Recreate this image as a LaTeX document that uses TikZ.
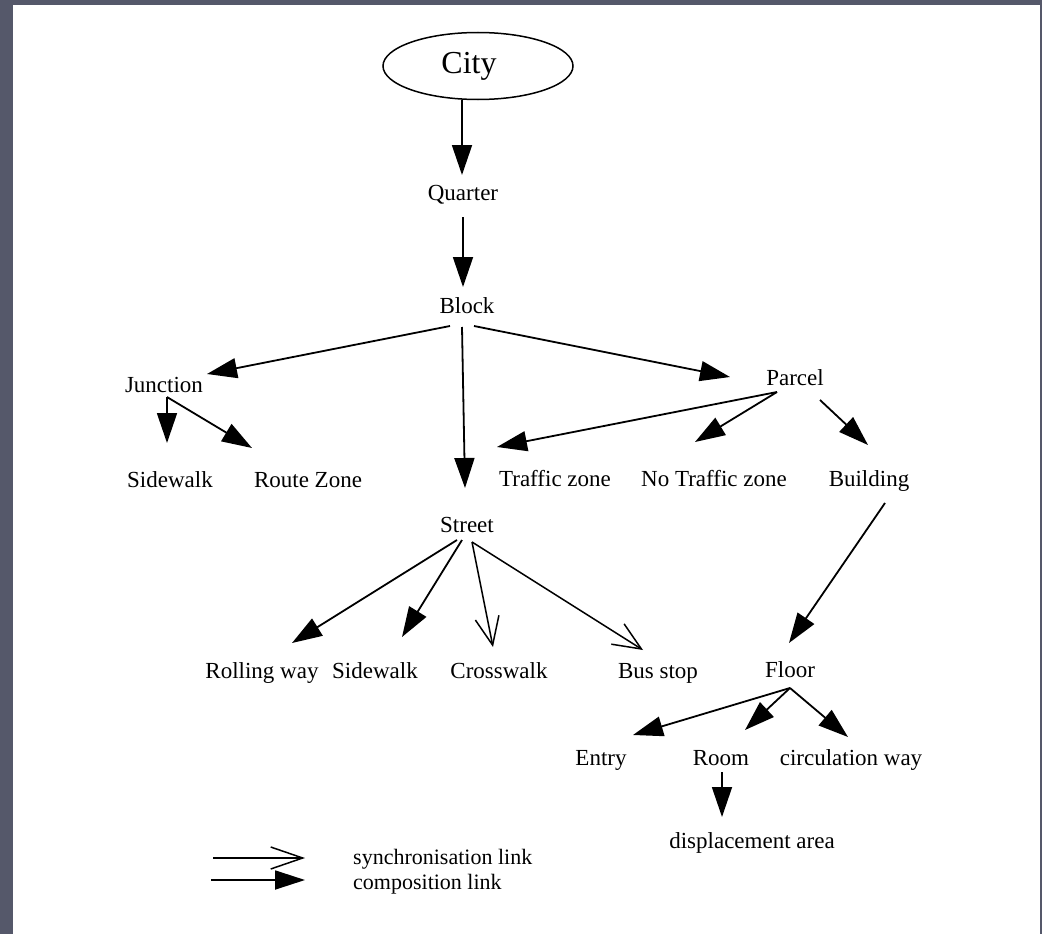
\documentclass[tikz,border=0pt]{standalone}
\usepackage{fontspec}
\setmainfont{Liberation Serif}
\usetikzlibrary{arrows.meta,calc,shapes.geometric}
\definecolor{slate}{RGB}{85,88,106}
\begin{document}
\begin{tikzpicture}[x=1pt,y=-1pt,
  lbl/.style={anchor=base,inner sep=0pt,font=\fontsize{23}{26}\selectfont},
  comp/.style={-{Triangle[length=30pt,width=20pt]},line width=1.8pt},
  sync/.style={-{Straight Barb[length=28pt,width=24pt]},line width=1.5pt}]
% frame
\fill[slate] (0,0) rectangle (1042,934);
\fill[white] (13,5) rectangle (1040,934);
\useasboundingbox (0,0) rectangle (1042,934);

% nodes
\node[draw,ellipse,line width=1.5pt,minimum width=190pt,minimum height=67pt,
      inner sep=0pt,font=\fontsize{32}{36}\selectfont] (city) at (478,66) {City\hspace*{18pt}};
\node[lbl] (quarter)   at (463,200) {Quarter};
\node[lbl] (block)     at (467,313) {Block};
\node[lbl] (junction)  at (164,392) {Junction};
\node[lbl] (parcel)    at (795,385) {Parcel};
\node[lbl] (sidewalkA) at (170,487) {Sidewalk};
\node[lbl] (route)     at (308,487) {Route Zone};
\node[lbl] (traffic)   at (555,486) {Traffic zone};
\node[lbl] (notraffic) at (714,486) {No Traffic zone};
\node[lbl] (building)  at (869,486) {Building};
\node[lbl] (street)    at (467,532) {Street};
\node[lbl] (rolling)   at (262,678) {Rolling way};
\node[lbl] (sidewalkB) at (375,678) {Sidewalk};
\node[lbl] (crosswalk) at (499,678) {Crosswalk};
\node[lbl] (busstop)   at (658,678) {Bus stop};
\node[lbl] (floor)     at (790,677) {Floor};
\node[lbl] (entry)     at (601,765) {Entry};
\node[lbl] (room)      at (721,765) {Room};
\node[lbl] (circ)      at (851,765) {circulation way};
\node[lbl] (disp)      at (752,848) {displacement area};

% composition links
\draw[comp] ($(city.center)+(-16,34)$) -- ($(quarter.base)+(-1,-25)$);
\draw[comp] ($(quarter.base)+(0,17)$) -- ($(block.base)+(-4,-26)$);
\draw[comp] ($(block.base)+(-17,13)$) -- ($(junction.base)+(43,-18)$);
\draw[comp] ($(block.base)+(-5,14)$) -- ($(street.base)+(-2,-44)$);
\draw[comp] ($(block.base)+(7,13)$) -- ($(parcel.base)+(-65,-8)$);
\draw[comp] ($(junction.base)+(3,5)$) -- ($(sidewalkA.base)+(-3,-44)$);
\draw[comp] ($(junction.base)+(3,5)$) -- ($(route.base)+(-56,-39)$);
\draw[comp] ($(parcel.base)+(-18,7)$) -- ($(traffic.base)+(-58,-39)$);
\draw[comp] ($(parcel.base)+(-18,7)$) -- ($(notraffic.base)+(-19,-44)$);
\draw[comp] ($(parcel.base)+(25,15)$) -- ($(building.base)+(-1,-41)$);
\draw[comp] ($(building.base)+(16,17)$) -- ($(floor.base)+(-1,-34)$);
\draw[comp] ($(street.base)+(-10,8)$) -- ($(rolling.base)+(30,-35)$);
\draw[comp] ($(street.base)+(-5,8)$) -- ($(sidewalkB.base)+(27,-41)$);
\draw[comp] ($(floor.base)+(0,11)$) -- ($(entry.base)+(32,-30)$);
\draw[comp] ($(floor.base)+(0,11)$) -- ($(room.base)+(24,-35)$);
\draw[comp] ($(floor.base)+(0,11)$) -- ($(circ.base)+(-3,-28)$);
\draw[comp] ($(room.base)+(1,7)$) -- ($(disp.base)+(-30,-31)$);

% synchronisation links
\draw[sync] ($(street.base)+(5,10)$) -- ($(crosswalk.base)+(-6,-31)$);
\draw[sync] ($(street.base)+(5,10)$) -- ($(busstop.base)+(-15,-28)$);

% legend
\coordinate (syncA) at (213,858);
\coordinate (syncB) at (305,858);
\coordinate (compA) at (211,880);
\coordinate (compB) at (305,880);
\draw[sync,-{Straight Barb[length=32pt,width=22pt]}] (syncA) -- (syncB);
\draw[comp,-{Triangle[length=30pt,width=19pt]}] (compA) -- (compB);
\node[lbl,anchor=base west,font=\fontsize{22}{24}\selectfont] (synctext) at (353,864) {synchronisation link};
\node[lbl,anchor=base west,font=\fontsize{22}{24}\selectfont] (comptext) at (353,889) {composition link};
\end{tikzpicture}
\end{document}
